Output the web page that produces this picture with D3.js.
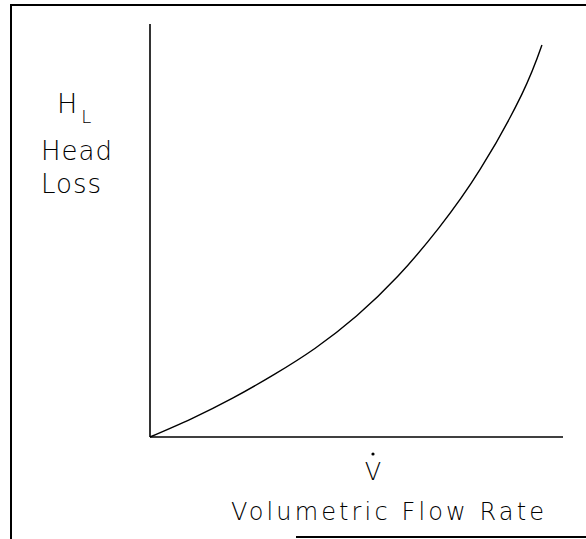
<!DOCTYPE html>
<html>
  <head>
    <script src="https://d3js.org/d3.v7.min.js" charset="utf-8"></script>
    <meta charset="UTF-8">
    <title>head loss vs flow rate</title>
    <style>
      body { margin: 0; background: #fff; }
      .chart text { font-family: "DejaVu Sans", "Liberation Sans", sans-serif; font-weight: 200; fill: #000; }
    </style>
  </head>
  <body>
    <svg class="chart"></svg>
    <script type="text/javascript">

     var width = 586,
         height = 539;

     // flow rate and head loss, both as a fraction of the axis length
     var flowRate = [0, 0.1, 0.2, 0.3, 0.4, 0.5, 0.6, 0.7, 0.8, 0.9, 0.949];
     var headLoss = [0, 0.044, 0.094, 0.151, 0.215, 0.293, 0.389, 0.507, 0.649, 0.829, 0.949];

     var yLabelLines = ["Head", "Loss"];
     var xLabel = "Volumetric Flow Rate";

     var points = flowRate.map(function(q, i) { return {q: q, h: headLoss[i]}; });

     var x = d3.scaleLinear().domain([0, 1]).range([150, 563]);
     var y = d3.scaleLinear().domain([0, 1]).range([437, 24]);

     var chart = d3.select(".chart")
                   .attr("width", width)
                   .attr("height", height);

     // frame
     chart.append("path")
          .attr("d", "M11,539 L11,5 L586,5")
          .attr("fill", "none")
          .attr("stroke", "#000")
          .attr("stroke-width", 2);
     chart.append("line")
          .attr("x1", 296).attr("x2", 586)
          .attr("y1", 537).attr("y2", 537)
          .attr("stroke", "#000")
          .attr("stroke-width", 2);

     // axes
     chart.append("line")
          .attr("x1", x(0)).attr("x2", x(0))
          .attr("y1", y(0)).attr("y2", y(1))
          .attr("stroke", "#000")
          .attr("stroke-width", 1.6);
     chart.append("line")
          .attr("x1", x(0)).attr("x2", x(1))
          .attr("y1", y(0)).attr("y2", y(0))
          .attr("stroke", "#000")
          .attr("stroke-width", 1.6);

     var line = d3.line()
                  .x(function(d) { return x(d.q); })
                  .y(function(d) { return y(d.h); })
                  .curve(d3.curveNatural);

     chart.append("path")
          .datum(points)
          .attr("d", line)
          .attr("fill", "none")
          .attr("stroke", "#000")
          .attr("stroke-width", 1.4);

     // y label
     var hl = chart.append("text")
                   .attr("x", 57)
                   .attr("y", 113)
                   .attr("font-size", 27);
     hl.append("tspan").text("H");
     hl.append("tspan")
       .attr("dx", 4)
       .attr("dy", 10)
       .attr("font-size", 18)
       .text("L");

     chart.selectAll(".ylab")
          .data(yLabelLines)
          .enter().append("text")
          .attr("class", "ylab")
          .attr("x", 41)
          .attr("y", function(d, i) { return 160 + i * 33; })
          .attr("font-size", 26)
          .attr("textLength", function(d, i) { return i == 0 ? 71 : 60; })
          .attr("lengthAdjust", "spacing")
          .text(function(d) { return d; });

     // x label
     chart.append("text")
          .attr("x", 373)
          .attr("y", 480)
          .attr("text-anchor", "middle")
          .attr("font-size", 24)
          .text("V");
     chart.append("circle")
          .attr("cx", 373)
          .attr("cy", 454)
          .attr("r", 1.6)
          .attr("fill", "#000");

     chart.append("text")
          .attr("x", 231)
          .attr("y", 520)
          .attr("font-size", 24)
          .attr("textLength", 313)
          .attr("lengthAdjust", "spacing")
          .text(xLabel);

    </script>
  </body>
</html>
